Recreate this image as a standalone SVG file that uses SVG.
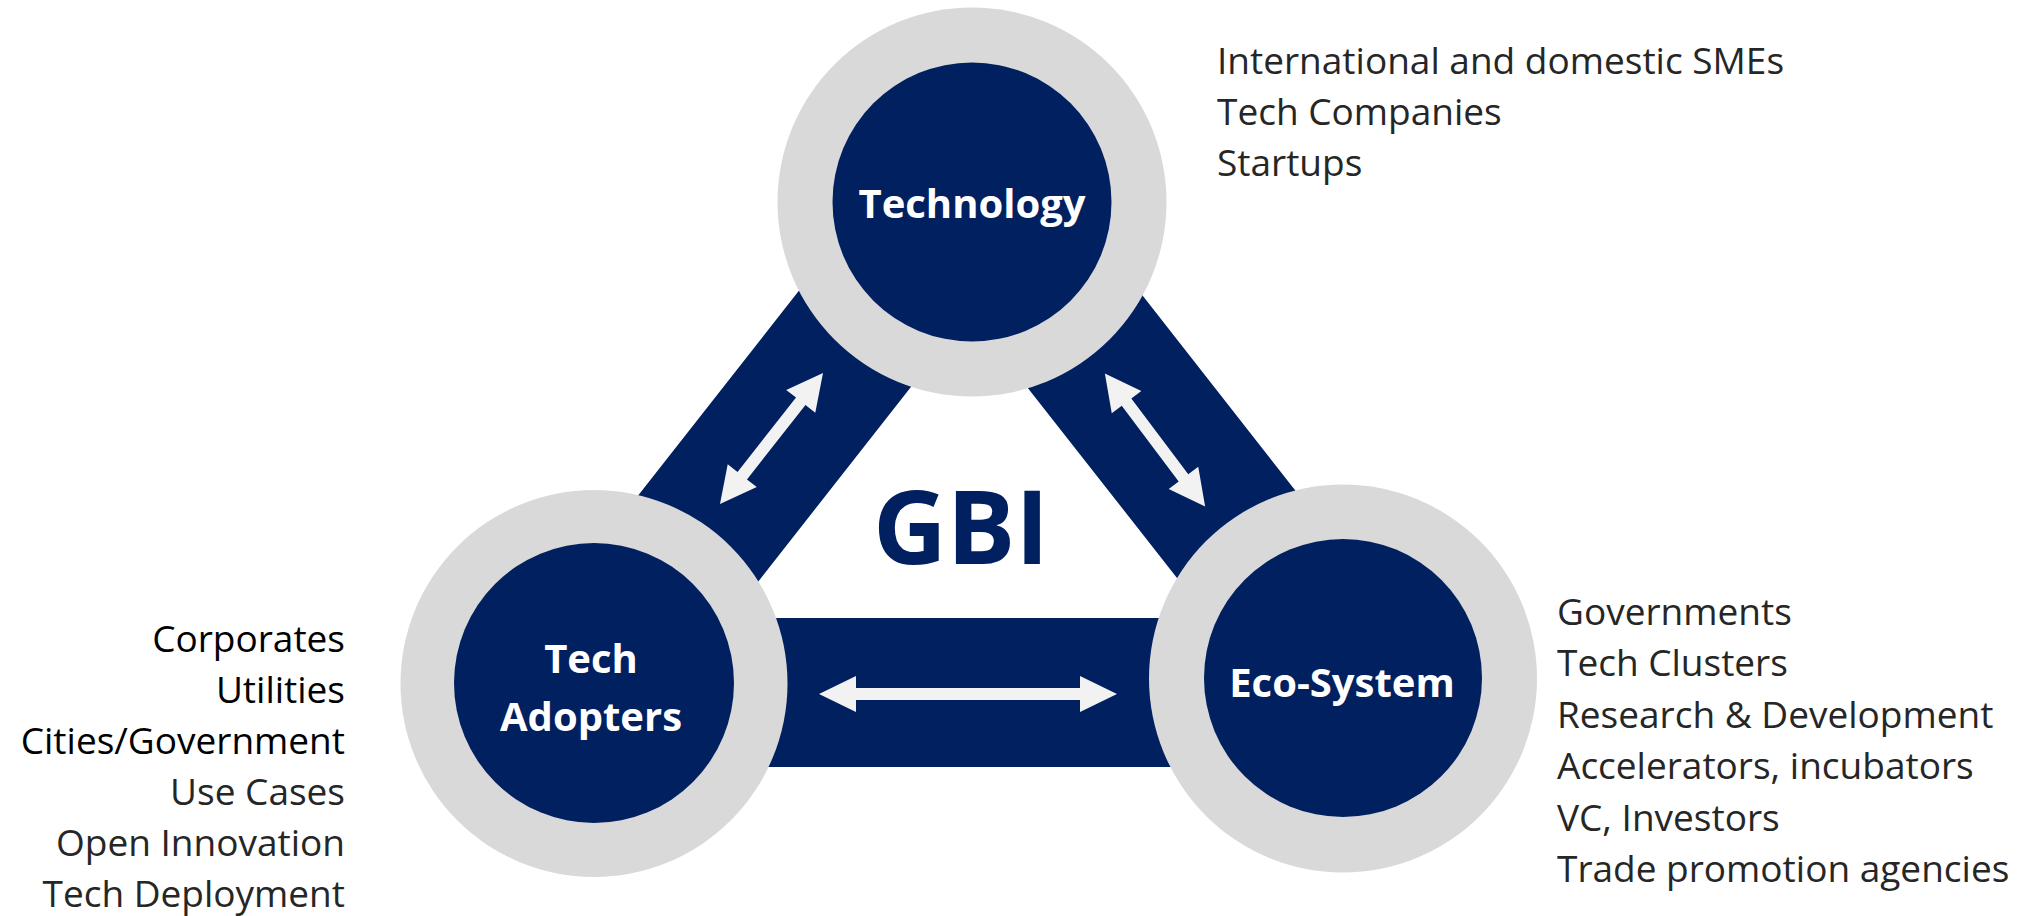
<svg xmlns="http://www.w3.org/2000/svg" xmlns:xlink="http://www.w3.org/1999/xlink" width="2030" height="916" viewBox="0 0 2030 916">
<style>
.ring{fill:#d9d9d9}
.core{fill:#012060}
.band{fill:#012060}
.arrow{fill:#f2f2f2}
.lbl{font-family:"Open Sans","Liberation Sans",sans-serif;font-weight:bold;font-size:40px;fill:#ffffff;text-anchor:middle}
.txt{font-family:"Open Sans","Liberation Sans",sans-serif;font-size:37px;fill:#262626}
.blk{fill:#000000}
.gbi{font-family:"Open Sans","Liberation Sans",sans-serif;font-weight:bold;font-size:102px;fill:#012060;text-anchor:middle}
</style>
<defs>
<polygon id="arrShort" points="-83.3,0 -47.3,-18.5 -47.3,-6 47.3,-6 47.3,-18.5 83.3,0 47.3,18.5 47.3,6 -47.3,6 -47.3,18.5"/>
<polygon id="arrLong" points="-149,0 -112,-18 -112,-6 112,-6 112,-18 149,0 112,18 112,6 -112,6 -112,18"/>
</defs>
<rect width="2030" height="916" fill="#ffffff"/>
<g id="connectors">
<path class="band" fill-rule="evenodd" d="M969,74 L425,767 L1512,767 Z M969,313 L729.6,618 L1208.4,618 Z"/>
<use class="arrow" xlink:href="#arrShort" href="#arrShort" transform="translate(771.5,438.5) rotate(-51.8)"/>
<use class="arrow" xlink:href="#arrShort" href="#arrShort" transform="translate(1155,440) rotate(53)"/>
<use class="arrow" xlink:href="#arrLong" href="#arrLong" transform="translate(968,694)"/>
</g>
<g id="node-technology">
<circle class="ring" cx="972" cy="202" r="194.5"/>
<circle class="core" cx="972" cy="202" r="139.5"/>
<text class="lbl" x="972" y="218">Technology</text>
</g>
<g id="node-tech-adopters">
<circle class="ring" cx="594" cy="683.5" r="193.5"/>
<circle class="core" cx="594" cy="683" r="140"/>
<text class="lbl" x="591" y="673">Tech</text>
<text class="lbl" x="591" y="731">Adopters</text>
</g>
<g id="node-eco-system">
<circle class="ring" cx="1343" cy="678.5" r="194"/>
<circle class="core" cx="1343" cy="678" r="139"/>
<text class="lbl" x="1342" y="697">Eco-System</text>
</g>
<g id="center-label">
<text class="gbi" x="961" y="564">GBI</text>
</g>
<g id="list-technology" class="txt">
<text x="1217" y="74">International and domestic SMEs</text>
<text x="1217" y="125">Tech Companies</text>
<text x="1217" y="176">Startups</text>
</g>
<g id="list-adopters" class="txt" text-anchor="end">
<text class="blk" x="345" y="652">Corporates</text>
<text class="blk" x="345" y="703">Utilities</text>
<text class="blk" x="345" y="754">Cities/Government</text>
<text x="345" y="805">Use Cases</text>
<text x="345" y="856">Open Innovation</text>
<text x="345" y="907">Tech Deployment</text>
</g>
<g id="list-ecosystem" class="txt">
<text x="1557" y="625">Governments</text>
<text x="1557" y="676.4">Tech Clusters</text>
<text x="1557" y="727.8">Research &amp; Development</text>
<text x="1557" y="779.2">Accelerators, incubators</text>
<text x="1557" y="830.6">VC, Investors</text>
<text x="1557" y="882">Trade promotion agencies</text>
</g>
</svg>
